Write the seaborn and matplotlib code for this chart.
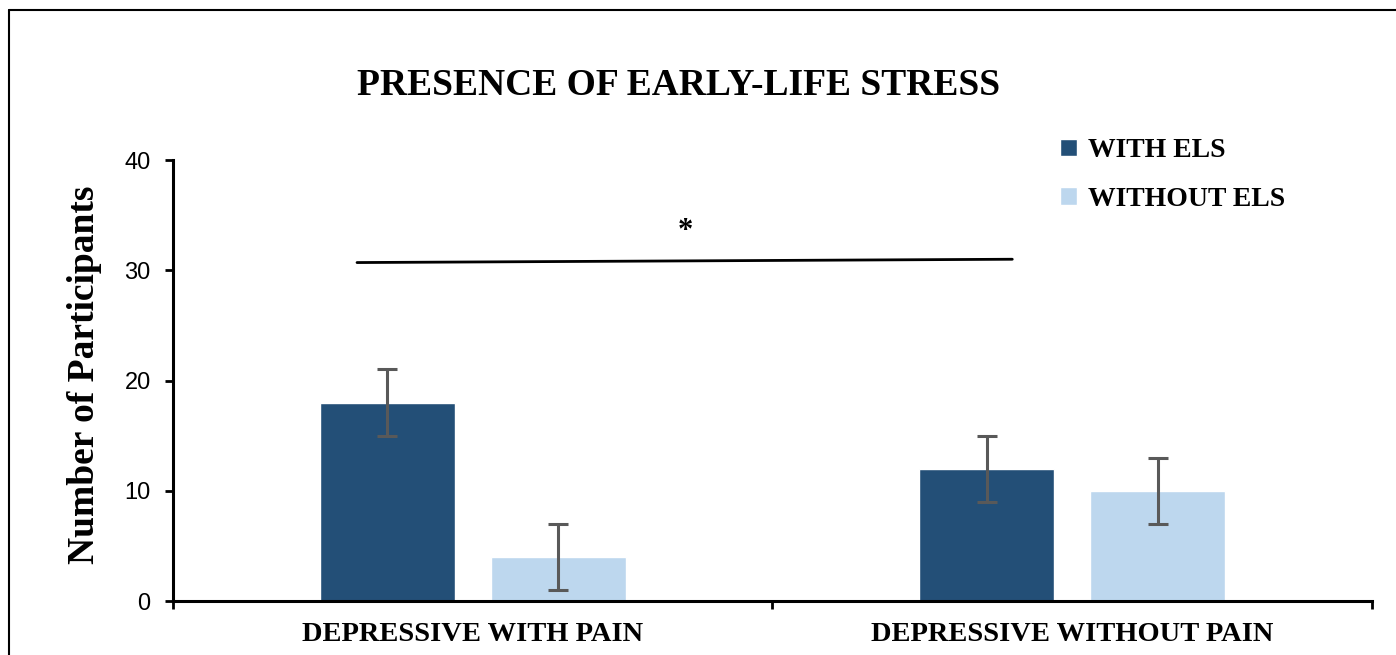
import numpy as np
import pandas as pd
import matplotlib.pyplot as plt
import seaborn as sns
from matplotlib.lines import Line2D

# Data
groups = ["DEPRESSIVE WITH PAIN", "DEPRESSIVE WITHOUT PAIN"]
els_levels = ["WITH ELS", "WITHOUT ELS"]
with_els = [18, 12]
without_els = [4, 10]
err_with = [3, 3]
err_without = [3, 3]
yticks = [0, 10, 20, 30, 40]
colors = ["#234F77", "#BDD7EE"]

df = pd.DataFrame({
    "group": groups * 2,
    "els": [els_levels[0]] * 2 + [els_levels[1]] * 2,
    "count": with_els + without_els,
})
errors = [err_with, err_without]

sns.set_theme(style="white")
plt.rcParams.update({"text.color": "black", "axes.labelcolor": "black",
                     "xtick.color": "black", "ytick.color": "black"})
serif = ["Liberation Serif", "DejaVu Serif"]
sans = ["Liberation Sans", "DejaVu Sans"]

fig = plt.figure(figsize=(13.96, 6.55), dpi=100)
ax = fig.add_axes([0.1239, 0.0824, 0.8589, 0.6733])

sns.barplot(data=df, x="group", y="count", hue="els", order=groups,
            hue_order=els_levels, palette=colors, width=0.57, gap=0.21,
            errorbar=None, saturation=1, ax=ax)

# error bars on the bar centres
for cont, errs in zip(ax.containers, errors):
    xs = [b.get_x() + b.get_width() / 2 for b in cont]
    hs = [b.get_height() for b in cont]
    ax.errorbar(xs, hs, yerr=errs, fmt="none", ecolor="#595959",
                elinewidth=2.2, capsize=7, capthick=2.2)

# significance bar
ax.plot([-0.193, 0.9], [30.7, 31.0], color="black", lw=2)
ax.text(0.355, 33.5, "*", ha="center", va="center", fontsize=22,
        fontweight="bold", family=serif)

ax.set_xlim(-0.5, 1.5)
ax.set_ylim(0, 40)
ax.set_yticks(yticks)
ax.set_yticklabels([str(t) for t in yticks], family=sans, fontsize=17)
ax.set_xticks([0, 1])
ax.set_xticklabels(groups, family=serif, fontweight="bold", fontsize=20.5)
ax.set_xticks([-0.5, 0.5, 1.5], minor=True)
ax.tick_params(axis="x", which="major", length=0, pad=15)
ax.tick_params(axis="x", which="minor", length=6, width=2, direction="out",
               bottom=True, color="black")
ax.tick_params(axis="y", length=6, width=2, direction="out", left=True,
               color="black", pad=10)

ax.set_xlabel("")
ax.set_ylabel("Number of Participants", family=serif, fontweight="bold",
              fontsize=27)
ax.yaxis.set_label_coords(-0.059, 0.512)

sns.despine(ax=ax)
for s in ["left", "bottom"]:
    ax.spines[s].set_linewidth(2.2)
    ax.spines[s].set_color("black")

handles, labels = ax.get_legend_handles_labels()
ax.legend(handles, labels, loc="upper left", bbox_to_anchor=(0.719, 1.106),
          frameon=False, handlelength=0.6, handleheight=0.6,
          handletextpad=0.4, labelspacing=0.85,
          prop={"family": serif, "weight": "bold", "size": 20})

fig.text(0.486, 0.870, "PRESENCE OF EARLY-LIFE STRESS", ha="center",
         va="center", family=serif, fontweight="bold", fontsize=27)

# outer frame (left and top edges visible)
fig.add_artist(Line2D([0.0068, 0.0068], [0, 0.9847], transform=fig.transFigure,
                      color="black", lw=1.5))
fig.add_artist(Line2D([0.0068, 1.0], [0.9847, 0.9847], transform=fig.transFigure,
                      color="black", lw=1.5))

fig.savefig("out.png", dpi=100)
